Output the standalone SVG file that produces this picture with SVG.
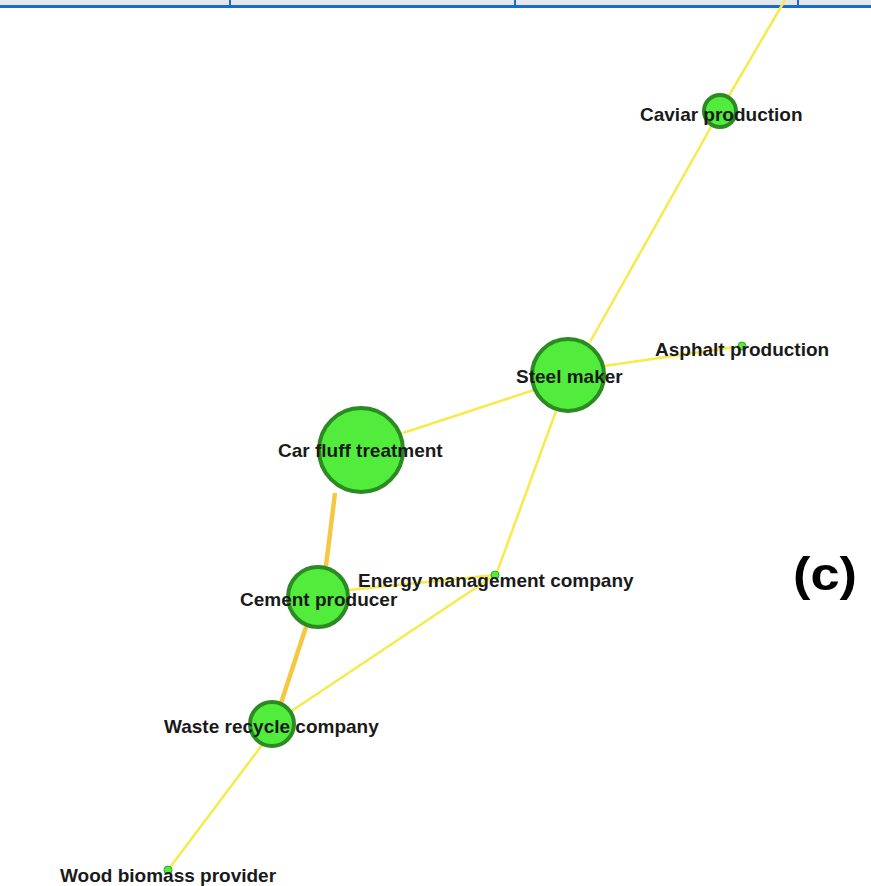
<svg xmlns="http://www.w3.org/2000/svg" width="871" height="886" viewBox="0 0 871 886">
<style>
.n{fill:#52ec3c;stroke:#2b8a22;stroke-width:4}
.s{fill:#52ec3c;stroke:#3aa030;stroke-width:1}
.t{font-family:"Liberation Sans",Arial,sans-serif;font-weight:bold;font-size:19px;fill:#1a1a1a}
.e{stroke:#f7ea4a;stroke-width:2.5;fill:none}
.ew{stroke:#f5c842;stroke-width:4.5;fill:none}
</style>
<rect width="871" height="886" fill="#ffffff"/>
<g id="topbar">
<rect x="0" y="0" width="871" height="5" fill="#e4e8ee"/>
<rect x="0" y="5" width="871" height="3" fill="#1a6ac8"/>
<rect x="229" y="0" width="2" height="6" fill="#1a6ac8"/>
<rect x="514" y="0" width="2" height="6" fill="#1a6ac8"/>
<rect x="797" y="0" width="2" height="6" fill="#1a6ac8"/>
</g>
<g id="connectors">
<line class="e" x1="785" y1="0" x2="720" y2="111"/>
<line class="e" x1="720" y1="111" x2="590" y2="342"/>
<line class="e" x1="604" y1="366" x2="742" y2="346"/>
<line class="e" x1="534" y1="390" x2="403" y2="433"/>
<line class="e" x1="556" y1="411" x2="496" y2="575"/>
<line class="ew" x1="335" y1="493" x2="326" y2="566"/>
<line class="e" x1="349" y1="590" x2="495" y2="575"/>
<line class="e" x1="495" y1="575" x2="290" y2="712"/>
<line class="ew" x1="306" y1="627" x2="281" y2="703"/>
<line class="e" x1="262" y1="745" x2="168" y2="870"/>
</g>
<g id="caviar"><circle class="n" cx="720" cy="111" r="16" stroke-width="2.5"/><text class="t" x="640" y="121">Caviar production</text></g>
<g id="asphalt"><circle class="s" cx="742" cy="346" r="4"/><text class="t" x="655" y="356">Asphalt production</text></g>
<g id="steel"><circle class="n" cx="568" cy="375" r="36"/><text class="t" x="516" y="383">Steel maker</text></g>
<g id="carfluff"><circle class="n" cx="361" cy="450" r="42"/><text class="t" x="278" y="457">Car fluff treatment</text></g>
<g id="energy"><circle class="s" cx="495" cy="575" r="4"/><text class="t" x="358" y="587">Energy management company</text></g>
<g id="cement"><circle class="n" cx="318" cy="597" r="30"/><text class="t" x="240" y="606">Cement producer</text></g>
<g id="waste"><circle class="n" cx="272" cy="724" r="22" stroke-width="3"/><text class="t" x="164" y="733">Waste recycle company</text></g>
<g id="wood"><circle class="s" cx="168" cy="870" r="4"/><text class="t" x="60" y="882">Wood biomass provider</text></g>
<text x="793" y="590" font-family="Liberation Sans,Arial,sans-serif" font-weight="bold" font-size="46" textLength="64" lengthAdjust="spacingAndGlyphs" fill="#000">(c)</text>
</svg>
